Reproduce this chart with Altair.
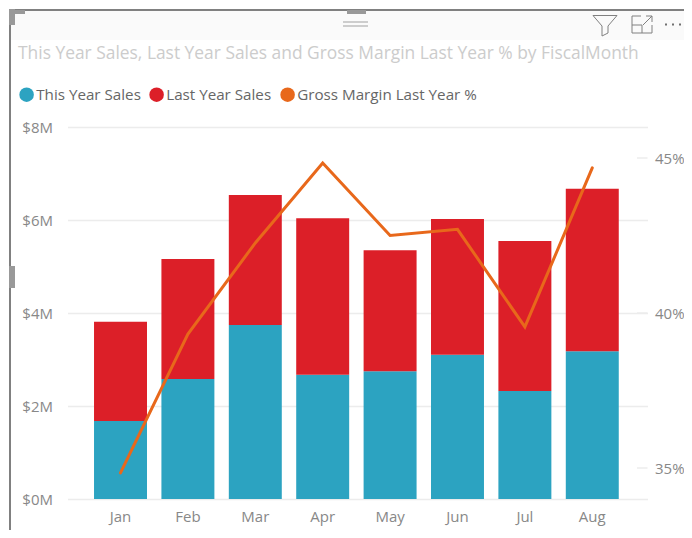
import altair as alt
import pandas as pd

months = ["Jan", "Feb", "Mar", "Apr", "May", "Jun", "Jul", "Aug"]
this_year = [1.68, 2.58, 3.74, 2.67, 2.75, 3.10, 2.32, 3.18]
last_year = [2.13, 2.58, 2.80, 3.37, 2.60, 2.92, 3.23, 3.49]
margin = [34.84, 39.32, 42.26, 44.84, 42.5, 42.7, 39.55, 44.68]
left_ticks = [0, 2, 4, 6, 8]
right_ticks = [35, 40, 45]
series = ["This Year Sales", "Last Year Sales", "Gross Margin Last Year %"]
colors = ["#2CA3C1", "#DC1F28", "#E8681B"]
title = "This Year Sales, Last Year Sales and Gross Margin Last Year % by FiscalMonth"

FONT = "Open Sans"
PLOT_L, PLOT_T = 67.5, 127
W, H = 580, 372

bars_df = pd.DataFrame(
    [{"m": m, "s": series[0], "v": a, "o": 0} for m, a in zip(months, this_year)]
    + [{"m": m, "s": series[1], "v": b, "o": 1} for m, b in zip(months, last_year)]
)
line_df = pd.DataFrame({"m": months, "s": series[2], "v": margin})
tick_df = pd.DataFrame({"t": right_ticks})
one = pd.DataFrame({"a": [0]})

color = alt.Color(
    "s:N",
    scale=alt.Scale(domain=series, range=colors),
    legend=alt.Legend(
        title=None, orient="none", legendX=19 - PLOT_L, legendY=87 - PLOT_T,
        direction="horizontal", columns=3, columnPadding=8,
        symbolType="circle", symbolSize=210, symbolStrokeWidth=0, symbolOpacity=1,
        labelFont=FONT, labelFontSize=15.2, labelColor="#666666", labelOffset=2,
        labelLimit=300,
    ),
)
xscale = alt.Scale(domain=months, paddingInner=0.214, paddingOuter=0.41, align=0.48)


def px(v):
    return alt.value(v)


def seg(x0, y0, x1, y1, col, w):
    """A piece of the report-visual frame, in page pixels."""
    return alt.Chart(one).mark_rule(color=col, strokeWidth=w).encode(
        x=px(x0 - PLOT_L), y=px(y0 - PLOT_T), x2=px(x1 - PLOT_L), y2=px(y1 - PLOT_T)
    )


chrome = [
    seg(10, 25, 684, 25, "#fafafa", 30),
    seg(10, 10, 684, 10, "#808080", 2),
    seg(10, 10, 10, 530, "#808080", 2),
    seg(9, 12, 25, 12, "#999999", 4),
    seg(12, 9, 12, 25, "#999999", 6),
    seg(9, 277, 15, 277, "#999999", 22),
    seg(347, 12, 366, 12, "#999999", 4),
    seg(343, 22, 368, 22, "#a0a0a0", 1),
    seg(343, 26, 368, 26, "#a0a0a0", 1),
    # filter icon
    seg(593, 15.5, 617, 15.5, "#808080", 1),
    seg(593, 15.5, 602, 26, "#808080", 1),
    seg(617, 15.5, 608, 26, "#808080", 1),
    seg(602, 26, 602, 36, "#808080", 1),
    seg(608, 26, 608, 33, "#808080", 1),
    seg(602, 36, 608, 33, "#808080", 1),
    # focus icon
    seg(632, 16, 632, 33, "#808080", 1),
    seg(632, 33, 652, 33, "#808080", 1),
    seg(652, 33, 652, 25, "#808080", 1),
    seg(632, 16, 641, 16, "#808080", 1),
    seg(632, 25, 642, 25, "#808080", 1),
    seg(642, 25, 642, 33, "#808080", 1),
    seg(643, 25, 652, 16, "#808080", 1),
    seg(646, 16, 652, 16, "#808080", 1),
    seg(652, 16, 652, 22, "#808080", 1),
    # more dots
    seg(665, 24.5, 667, 24.5, "#707070", 2),
    seg(672, 24.5, 674, 24.5, "#707070", 2),
    seg(679, 24.5, 681, 24.5, "#707070", 2),
]

title_mark = alt.Chart(one).mark_text(
    align="left", baseline="middle", font=FONT, fontSize=17.4, color="#cccccc"
).encode(x=px(18 - PLOT_L), y=px(54 - PLOT_T), text=alt.value(title))

bars = alt.Chart(bars_df).mark_bar().encode(
    x=alt.X("m:N", sort=months, scale=xscale,
            axis=alt.Axis(title=None, domain=False, ticks=False, labelAngle=0, labelPadding=10,
                          labelFont=FONT, labelFontSize=15, labelColor="#888888")),
    y=alt.Y("v:Q", stack="zero", scale=alt.Scale(domain=[0, 8], nice=False),
            axis=alt.Axis(title=None, values=left_ticks, labelExpr="'$' + datum.value + 'M'",
                          domain=False, ticks=False, labelPadding=15, grid=True,
                          gridColor="#ececec", gridWidth=1.5, labelOverlap=False,
                          labelFont=FONT, labelFontSize=15, labelColor="#888888")),
    color=color,
    order=alt.Order("o:Q"),
)

line = alt.Chart(line_df).mark_line(strokeWidth=3, strokeCap="round", strokeJoin="miter").encode(
    x=alt.X("m:N", sort=months, scale=xscale),
    y=alt.Y("v:Q", scale=alt.Scale(domain=[34, 46], nice=False),
            axis=alt.Axis(title=None, orient="right", values=right_ticks, labelExpr="datum.value + '%'",
                          domain=False, ticks=False, grid=False, labelPadding=7,
                          labelFont=FONT, labelFontSize=15, labelColor="#888888")),
    color=color,
)

rticks = alt.Chart(tick_df).mark_rule(color="#ececec", strokeWidth=1.5).encode(
    x=px(637 - PLOT_L), x2=px(W),
    y=alt.Y("t:Q", scale=alt.Scale(domain=[34, 46], nice=False), axis=None),
)

chart = (
    alt.layer(*chrome, title_mark, bars, rticks, line)
    .resolve_scale(y="independent")
    .properties(
        width=W, height=H,
        padding={"left": PLOT_L - 8, "top": PLOT_T - 8, "right": 684 - PLOT_L - W, "bottom": 31},
        autosize=alt.AutoSizeParams(type="none"),
    )
    .configure_view(stroke=None)
)
chart.save("out.html", embed_options={"renderer": "svg", "actions": False})
